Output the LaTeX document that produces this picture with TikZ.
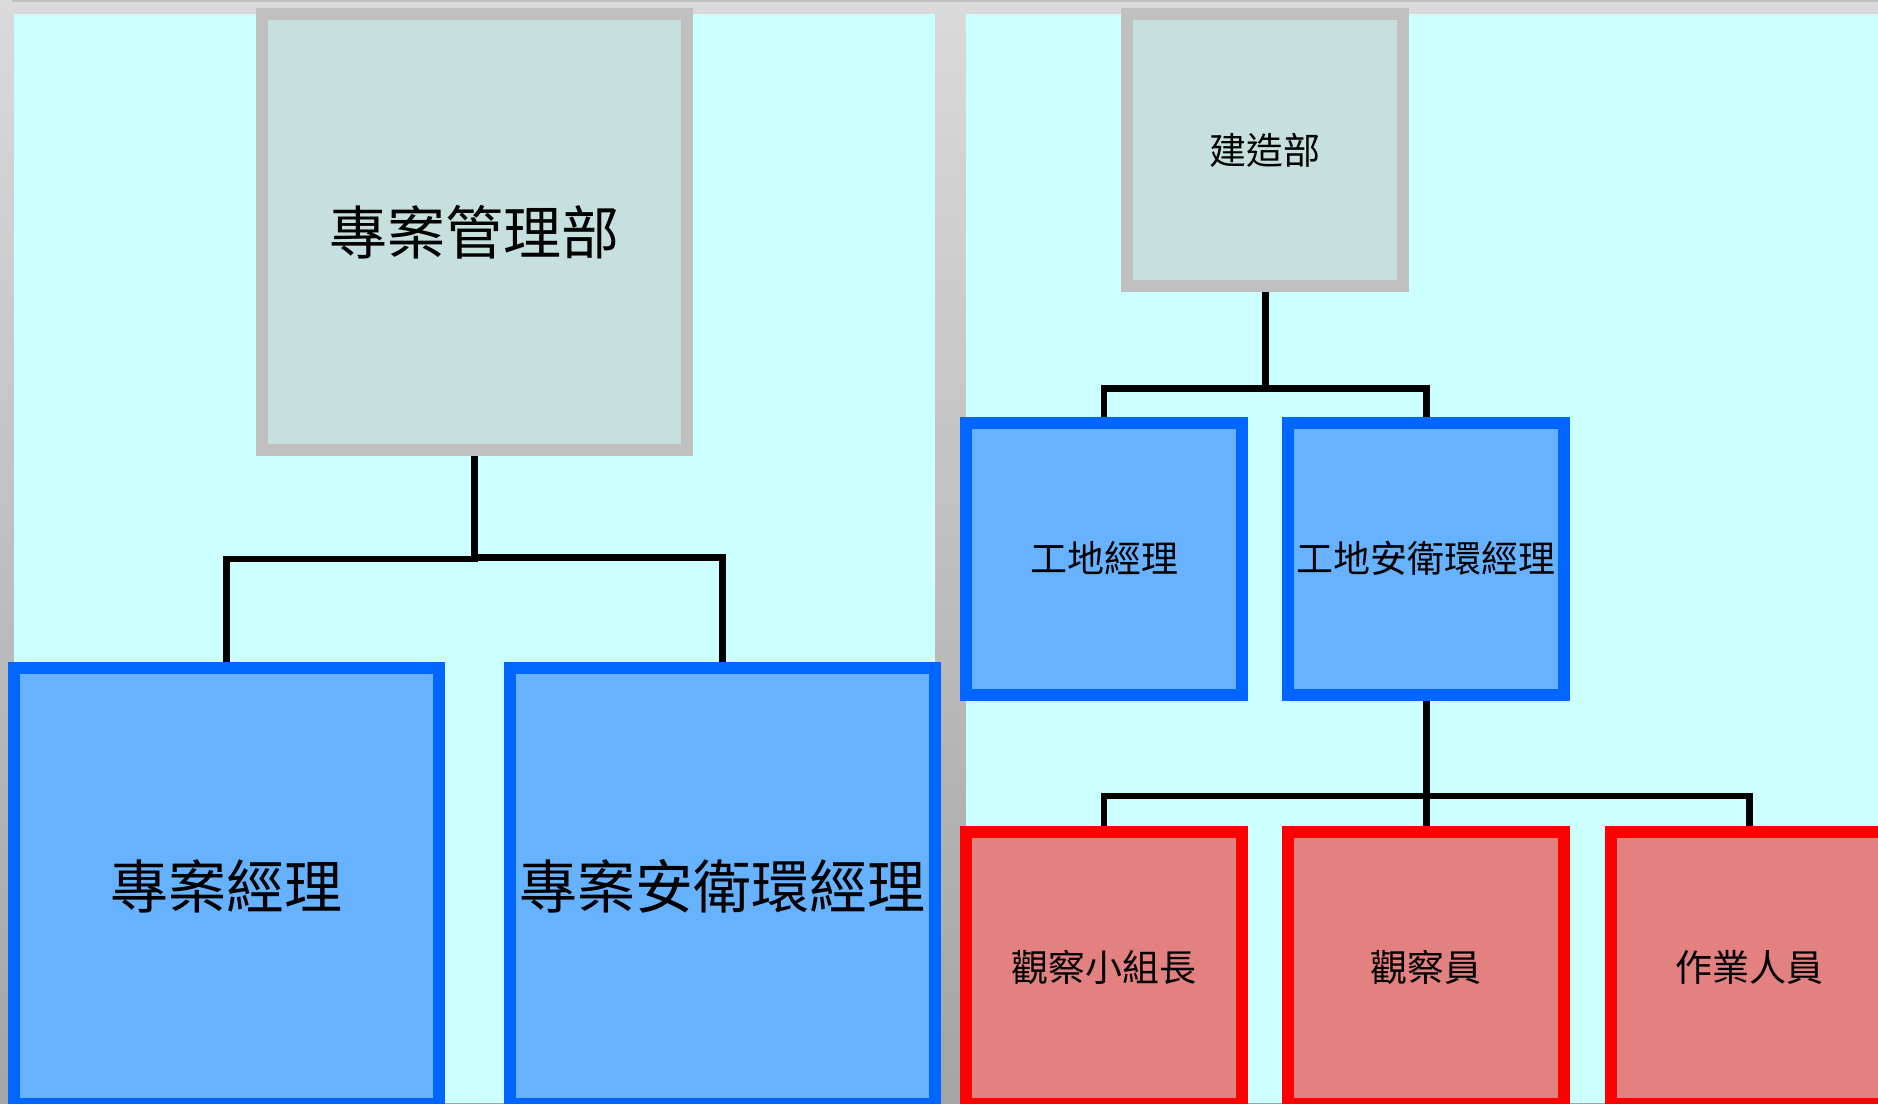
\documentclass[tikz,border=0pt]{standalone}
\usepackage{fontspec}
\newfontfamily\cjk{Noto Sans CJK TC}
\definecolor{bgtop}{HTML}{DADADA}
\definecolor{bgbot}{HTML}{A4A4A4}
\definecolor{panel}{HTML}{CCFFFF}
\definecolor{grayfill}{HTML}{C6E0E0}
\definecolor{grayline}{HTML}{C0C0C0}
\definecolor{bluefill}{HTML}{66B2FF}
\definecolor{blueline}{HTML}{0066FF}
\definecolor{redfill}{HTML}{E38080}
\definecolor{redline}{HTML}{FF0000}
\tikzset{
  box/.style={rectangle, line width=12pt, outer sep=6pt, inner sep=0pt, text=black},
  bigbox/.style={box, minimum width=424.5pt, minimum height=436pt, font=\cjk\fontsize{58}{60}\selectfont},
  smallbox/.style={box, minimum width=276pt, minimum height=272pt, font=\cjk\fontsize{37}{40}\selectfont},
  graybox/.style={draw=grayline, fill=grayfill},
  bluebox/.style={draw=blueline, fill=bluefill},
  redbox/.style={draw=redline, fill=redfill},
  conn/.style={draw=black, line width=6.5pt}
}
\begin{document}
\begin{tikzpicture}[x=1pt, y=-1pt]
\useasboundingbox (0,0) rectangle (1878,1103);
\clip (0,0) rectangle (1878,1103);
% background
\shade[top color=bgtop, bottom color=bgbot] (0,0) rectangle (1878,1103);
\fill[grayline] (12,0) rectangle (1878,1.5);
\fill[panel] (14,14) rectangle (935,1103);
\fill[panel] (965.7,14) rectangle (1878,1103);
% left tree
\node[bigbox, graybox] (A) at (474.25,232) {專案管理部};
\node[bigbox, bluebox] (B) at (226.25,886) {專案經理};
\node[bigbox, bluebox] (C) at (722.25,886) {專案安衛環經理};
\coordinate (Aj) at (474.25,562);
\coordinate (AjL) at (477.5,559);
\coordinate (AjR) at (474.25,557.3);
\draw[conn] (A.south) -- (Aj);
\draw[conn] (B.north) -- (B.north |- AjL) -- (AjL);
\draw[conn] (AjR) -- (C.north |- AjR) -- (C.north);
% right tree
\node[smallbox, graybox] (D) at (1265.3,150) {建造部};
\node[smallbox, bluebox] (E) at (1104,558.5) {工地經理};
\node[smallbox, bluebox] (F) at (1426.25,558.5) {工地安衛環經理};
\node[smallbox, redbox] (G) at (1104,967.5) {觀察小組長};
\node[smallbox, redbox] (H) at (1426.25,967.5) {觀察員};
\node[smallbox, redbox] (I) at (1749.25,967.5) {作業人員};
\coordinate (Dj) at (1265.3,388.6);
\coordinate (Fj) at (1426.25,796);
\draw[conn] (D.south) -- (Dj);
\draw[conn] (E.north) -- (E.north |- Dj) -- (F.north |- Dj) -- (F.north);
\draw[conn] (F.south) -- (H.north);
\draw[conn] (G.north) -- (G.north |- Fj) -- (I.north |- Fj) -- (I.north);
\end{tikzpicture}
\end{document}
